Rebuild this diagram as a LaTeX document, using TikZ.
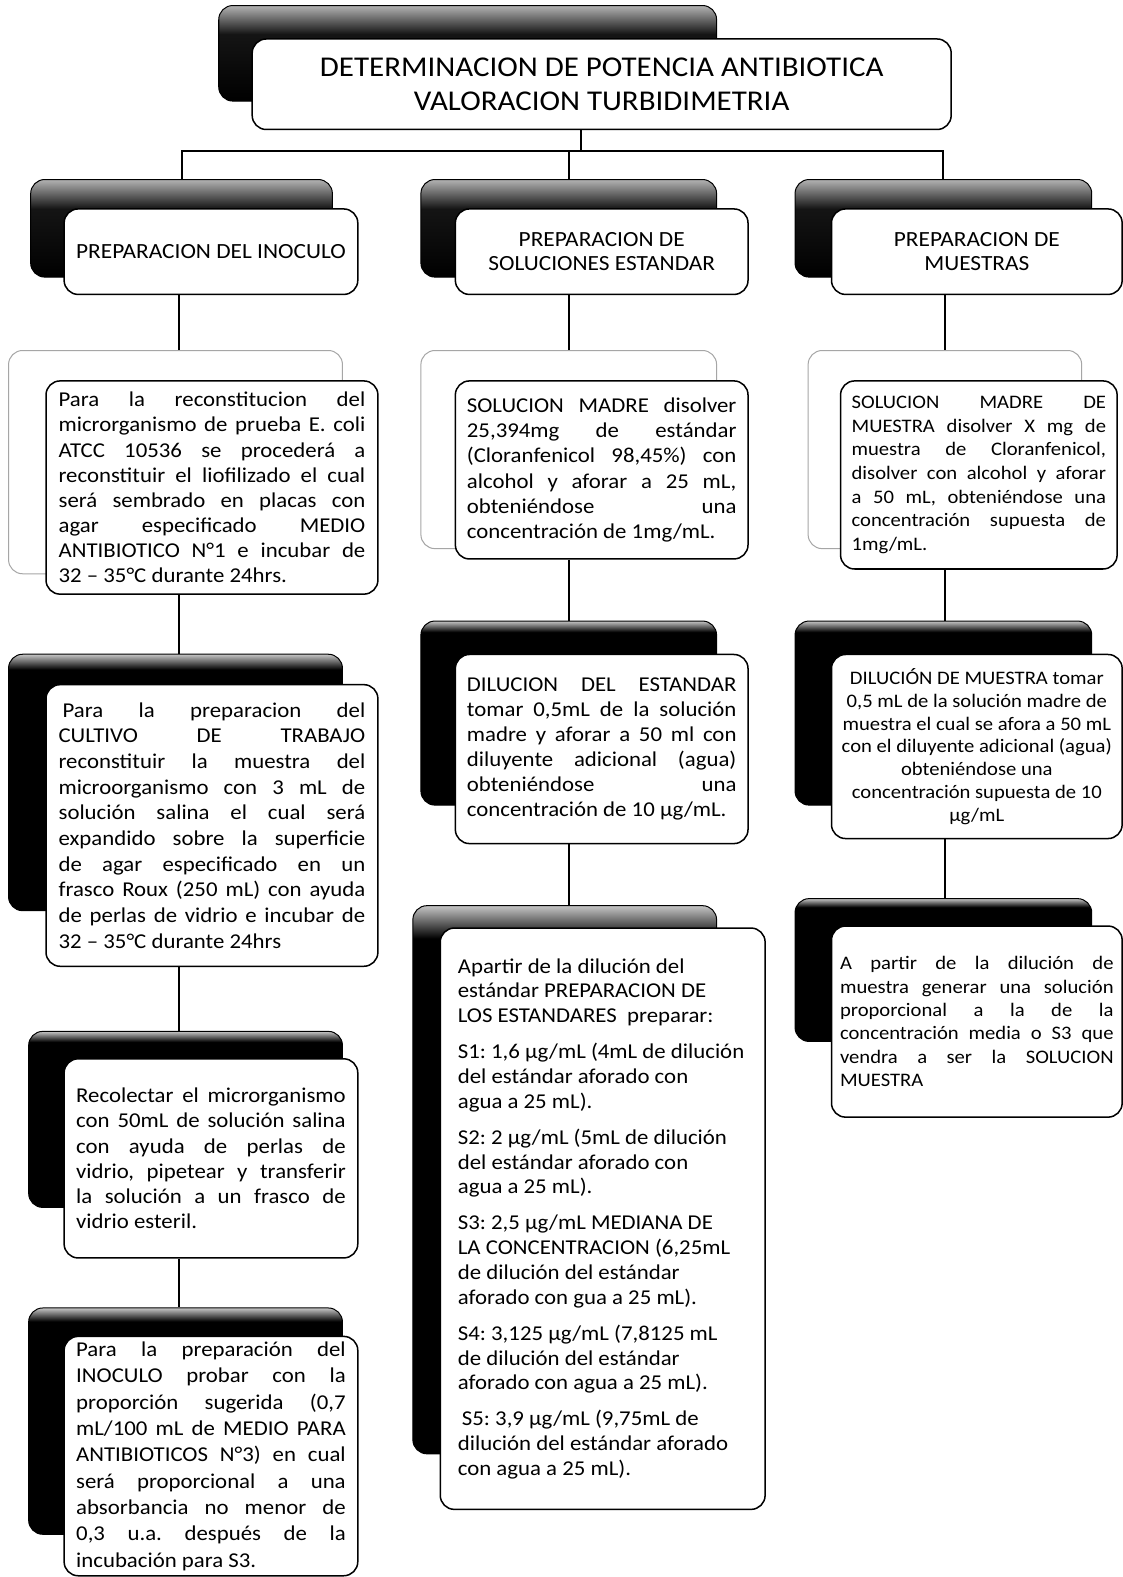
\documentclass[tikz,border=0pt]{standalone}
\usepackage{fontspec}
\setmainfont[FakeStretch=1.08]{Carlito}
\tolerance=10000 \hbadness=10000 \vbadness=10000
\hyphenpenalty=10000 \exhyphenpenalty=10000
\frenchspacing
\pgfdeclareverticalshading{lvlone}{100bp}{color(0bp)=(black); color(25bp)=(black); color(60bp)=(black!92); color(75bp)=(gray!60); color(100bp)=(gray!60)}
\pgfdeclareverticalshading{lvldark}{100bp}{color(0bp)=(black); color(25bp)=(black); color(72bp)=(black); color(75bp)=(gray!45); color(100bp)=(gray!45)}
\newcommand\txa{\fontsize{21}{25}\selectfont}
\newcommand\txb{\fontsize{19}{23.5}\selectfont}
\tikzset{
  frontbox/.style={draw=black, line width=1.5pt, fill=white, rounded corners=14pt, inner sep=0pt, anchor=north west},
  backone/.style={draw=black, line width=1pt, shade, shading=lvlone, rounded corners=14pt, inner sep=0pt, anchor=north west},
  backdark/.style={draw=black, line width=1pt, shade, shading=lvldark, rounded corners=14pt, inner sep=0pt, anchor=north west},
  backlight/.style={draw=gray!70, line width=1pt, fill=white, rounded corners=14pt, inner sep=0pt, anchor=north west},
  headtext/.style={align=center, font={\fontsize{21.5}{24}\selectfont}},
  link/.style={draw=black, line width=2pt}
}
\begin{document}
\begin{tikzpicture}[x=1pt, y=-1pt]
\useasboundingbox (0,0) rectangle (1116,1568);
\fill[white] (0,0) rectangle (1116,1568);

% ---------- title ----------
\node[backone, minimum width=495, minimum height=95] (tback) at (217,5) {};
\node[frontbox, minimum width=695, minimum height=90, align=center, font={\fontsize{28.5}{33}\selectfont}] (title) at (250,38)
  {DETERMINACION DE POTENCIA ANTIBIOTICA\\VALORACION TURBIDIMETRIA};

% ---------- level 1 ----------
\node[backone, minimum width=300, minimum height=97] (b1L) at (30,178) {};
\node[frontbox, headtext, minimum width=292, minimum height=85] (f1L) at (63,207)
  {PREPARACION DEL INOCULO};
\node[backone, minimum width=294, minimum height=97] (b1M) at (418,178) {};
\node[frontbox, headtext, minimum width=291, minimum height=85] (f1M) at (452,207)
  {PREPARACION DE\\SOLUCIONES ESTANDAR};
\node[backone, minimum width=295, minimum height=97] (b1R) at (790,178) {};
\node[frontbox, headtext, minimum width=289, minimum height=85] (f1R) at (826,207)
  {PREPARACION DE\\MUESTRAS};

% ---------- level 2 ----------
\node[backlight, minimum width=332, minimum height=222] (b2L) at (8,348) {};
\node[frontbox, minimum width=330, minimum height=212] (f2L) at (45,378)
  {\parbox{305pt}{\txa Para la reconstitucion del\linebreak microrganismo de prueba E. coli\linebreak ATCC 10536 se procederá a\linebreak reconstituir el liofilizado el cual\linebreak será sembrado en placas con\linebreak agar especificado MEDIO\linebreak ANTIBIOTICO N°1 e incubar de\linebreak 32 – 35°C durante 24hrs.}};
\node[backlight, minimum width=294, minimum height=197] (b2M) at (418,348) {};
\node[frontbox, minimum width=291, minimum height=177] (f2M) at (452,378)
  {\parbox{268pt}{\txa SOLUCION MADRE disolver\linebreak 25,394mg de estándar\linebreak (Cloranfenicol 98,45\%) con\linebreak alcohol y aforar a 25 mL,\linebreak obteniéndose una\linebreak concentración de 1mg/mL.}};
\node[backlight, minimum width=272, minimum height=197] (b2R) at (803,348) {};
\node[frontbox, minimum width=275, minimum height=187] (f2R) at (835,378)
  {\parbox{253pt}{\txb SOLUCION MADRE DE\linebreak MUESTRA disolver X mg de\linebreak muestra de Cloranfenicol,\linebreak disolver con alcohol y aforar\linebreak a 50 mL, obteniéndose una\linebreak concentración supuesta de\linebreak 1mg/mL.}};

% ---------- level 3 ----------
\node[backdark, minimum width=332, minimum height=255] (b3L) at (8,650) {};
\node[frontbox, minimum width=330, minimum height=280] (f3L) at (45,680)
  {\parbox{305pt}{\fontsize{21}{25.5}\selectfont\hspace*{4pt}Para la preparacion del\linebreak CULTIVO DE TRABAJO\linebreak reconstituir la muestra del\linebreak microorganismo con 3 mL de\linebreak solución salina el cual será\linebreak expandido sobre la superficie\linebreak de agar especificado en un\linebreak frasco Roux (250 mL) con ayuda\linebreak de perlas de vidrio e incubar de\linebreak 32 – 35°C durante 24hrs}};
\node[backdark, minimum width=294, minimum height=183] (b3M) at (418,617) {};
\node[frontbox, minimum width=291, minimum height=188] (f3M) at (452,650)
  {\parbox{268pt}{\txa DILUCION DEL ESTANDAR\linebreak tomar 0,5mL de la solución\linebreak madre y aforar a 50 ml con\linebreak diluyente adicional (agua)\linebreak obteniéndose una\linebreak concentración de 10 µg/mL.}};
\node[backdark, minimum width=295, minimum height=183] (b3R) at (790,617) {};
\node[frontbox, minimum width=289, minimum height=183] (f3R) at (826,650)
  {\parbox{282pt}{\centering\fontsize{19}{22.7}\selectfont DILUCIÓN DE MUESTRA tomar\\ 0,5 mL de la solución madre de\\ muestra el cual se afora a 50 mL\\ con el diluyente adicional (agua)\\ obteniéndose una\\ concentración supuesta de 10\\ µg/mL}};

% ---------- level 4 ----------
\node[backdark, minimum width=312, minimum height=175] (b4L) at (28,1025) {};
\node[frontbox, minimum width=292, minimum height=198] (f4L) at (63,1052)
  {\parbox{268pt}{\txa Recolectar el microrganismo\linebreak con 50mL de solución salina\linebreak con ayuda de perlas de\linebreak vidrio, pipetear y transferir\linebreak la solución a un frasco de\linebreak vidrio esteril.}};
\node[backdark, minimum width=302, minimum height=545] (b4M) at (410,900) {};
\node[frontbox, minimum width=323, minimum height=578] (f4M) at (437,922)
  {\parbox{288pt}{\raggedright\fontsize{21}{24.7}\selectfont
   Apartir de la dilución del\\ estándar PREPARACION DE\\ LOS ESTANDARES\ \ preparar:\par\vspace{11pt}
   S1: 1,6 µg/mL (4mL de dilución\\ del estándar aforado con\\ agua a 25 mL).\par\vspace{11pt}
   S2: 2 µg/mL (5mL de dilución\\ del estándar aforado con\\ agua a 25 mL).\par\vspace{11pt}
   S3: 2,5 µg/mL MEDIANA DE\\ LA CONCENTRACION (6,25mL\\ de dilución del estándar\\ aforado con gua a 25 mL).\par\vspace{11pt}
   S4: 3,125 µg/mL (7,8125 mL\\ de dilución del estándar\\ aforado con agua a 25 mL).\par\vspace{11pt}
   \hspace*{4pt}S5: 3,9 µg/mL (9,75mL de\\ dilución del estándar aforado\\ con agua a 25 mL).}};
\node[backdark, minimum width=295, minimum height=142] (b4R) at (790,893) {};
\node[frontbox, minimum width=289, minimum height=190] (f4R) at (826,920)
  {\parbox{272pt}{\fontsize{19}{23.2}\selectfont A partir de la dilución de\linebreak muestra generar una solución\linebreak proporcional a la de la\linebreak concentración media o S3 que\linebreak vendra a ser la SOLUCION\linebreak MUESTRA}};

% ---------- level 5 ----------
\node[backdark, minimum width=312, minimum height=225] (b5L) at (28,1300) {};
\node[frontbox, minimum width=292, minimum height=238] (f5L) at (63,1328)
  {\parbox{268pt}{\fontsize{21}{26.2}\selectfont Para la preparación del\linebreak INOCULO probar con la\linebreak proporción sugerida (0,7\linebreak mL/100 mL de MEDIO PARA\linebreak ANTIBIOTICOS N°3) en cual\linebreak será proporcional a una\linebreak absorbancia no menor de\linebreak 0,3 u.a. después de la\linebreak incubación para S3.}};

% ---------- connectors ----------
\coordinate (bus) at (578,150);
\coordinate (colL) at (178,0);
\coordinate (colM) at (566,0);
\coordinate (colR) at (940,0);
\draw[link] (title.south -| bus) -- (bus);
\draw[link] (bus) -| (b1L.north);
\draw[link] (bus) -| (b1M.north);
\draw[link] (bus) -| (b1R.north);

\draw[link] (f1L.south -| colL) -- (b2L.north -| colL);
\draw[link] (f2L.south -| colL) -- (b3L.north -| colL);
\draw[link] (f3L.south -| colL) -- (b4L.north -| colL);
\draw[link] (f4L.south -| colL) -- (b5L.north -| colL);

\draw[link] (f1M.south -| colM) -- (b2M.north -| colM);
\draw[link] (f2M.south -| colM) -- (b3M.north -| colM);
\draw[link] (f3M.south -| colM) -- (b4M.north -| colM);

\draw[link] (f1R.south -| colR) -- (b2R.north -| colR);
\draw[link] (f2R.south -| colR) -- (b3R.north -| colR);
\draw[link] (f3R.south -| colR) -- (b4R.north -| colR);
\end{tikzpicture}
\end{document}
